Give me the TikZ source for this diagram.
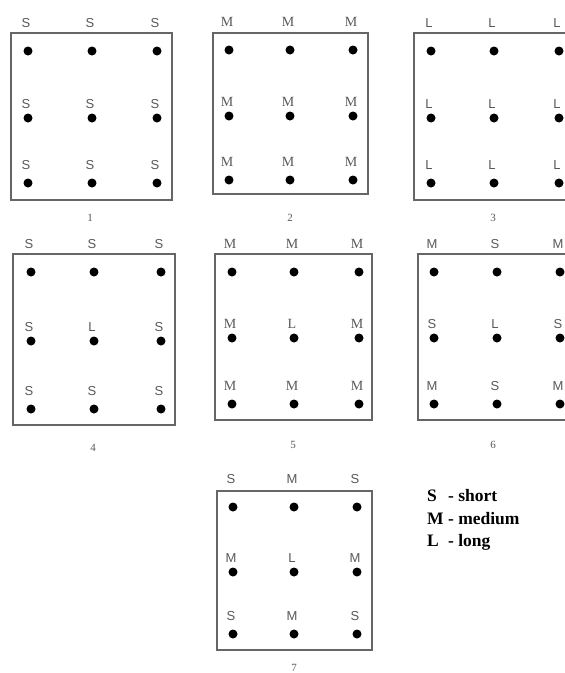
\documentclass[tikz,border=0pt]{standalone}
\usepackage{fontspec}
\setmainfont{Liberation Serif}
\newfontfamily\labsans{Liberation Sans}
\newfontfamily\labserif{Liberation Serif}
\begin{document}
\begin{tikzpicture}[x=1pt,y=-1pt,
  dotn/.style={circle,fill=black,minimum size=9pt,inner sep=0pt},
  boxline/.style={draw=black!60,line width=1.4pt},
  lab/.style={inner sep=0pt,text=black!65,font=\labsans\fontsize{13}{13}\selectfont},
  labs/.style={inner sep=0pt,text=black!65,font=\labserif\fontsize{14}{14}\selectfont},
  numlab/.style={inner sep=0pt,text=black!65,font=\labserif\fontsize{11}{11}\selectfont},
  legend/.style={inner sep=0pt,anchor=north west,align=left,font=\bfseries\fontsize{17.5}{22.5}\selectfont}]
\newcommand\pdots[7]{%
  \foreach \c/\x in {1/#2,2/#3,3/#4}{%
    \foreach \r/\y in {1/#5,2/#6,3/#7}{%
      \node[dotn] (#1-\r\c) at (\x,\y) {};}}}
\newcommand\plabels[5]{%
  \foreach \l [count=\c] in {#2}{\node[#5] (#1-t\c) at ([yshift=28pt,xshift=-2pt]#1-1\c) {\l};}
  \foreach \l [count=\c] in {#3}{\node[#5] (#1-m\c) at ([yshift=14pt,xshift=-2pt]#1-2\c) {\l};}
  \foreach \l [count=\c] in {#4}{\node[#5] (#1-b\c) at ([yshift=18pt,xshift=-2pt]#1-3\c) {\l};}}
\clip (0,0) rectangle (565,673);
\fill[white] (0,0) rectangle (565,673);
% panel 1
\draw[boxline] (11,33) rectangle (172,200);
\pdots{p1}{28}{92}{157}{51}{118}{183}
\plabels{p1}{S,S,S}{S,S,S}{S,S,S}{lab}
\node[numlab] (n1) at (90,218) {1};
% panel 2
\draw[boxline] (213,33) rectangle (368,194);
\pdots{p2}{229}{290}{353}{50}{116}{180}
\plabels{p2}{M,M,M}{M,M,M}{M,M,M}{labs}
\node[numlab] (n2) at (290,218) {2};
% panel 3
\draw[boxline] (414,33) rectangle (585,200);
\pdots{p3}{431}{494}{559}{51}{118}{183}
\plabels{p3}{L,L,L}{L,L,L}{L,L,L}{lab}
\node[numlab] (n3) at (493,218) {3};
% panel 4
\draw[boxline] (13,254) rectangle (175,425);
\pdots{p4}{31}{94}{161}{272}{341}{409}
\plabels{p4}{S,S,S}{S,L,S}{S,S,S}{lab}
\node[numlab] (n4) at (93,448) {4};
% panel 5
\draw[boxline] (215,254) rectangle (372,420);
\pdots{p5}{232}{294}{359}{272}{338}{404}
\plabels{p5}{M,M,M}{M,L,M}{M,M,M}{labs}
\node[numlab] (n5) at (293,445) {5};
% panel 6
\draw[boxline] (418,254) rectangle (585,420);
\pdots{p6}{434}{497}{560}{272}{338}{404}
\plabels{p6}{M,S,M}{S,L,S}{M,S,M}{lab}
\node[numlab] (n6) at (493,445) {6};
% panel 7
\draw[boxline] (217,491) rectangle (372,650);
\pdots{p7}{233}{294}{357}{507}{572}{634}
\plabels{p7}{S,M,S}{M,L,M}{S,M,S}{lab}
\node[numlab] (n7) at (294,668) {7};
% legend
\node[legend] (leg) at (427,486) {%
  \begin{tabular}{@{}l@{\ }l@{}}
  S & - short\\
  M & - medium\\
  L & - long
  \end{tabular}};
\end{tikzpicture}
\end{document}
